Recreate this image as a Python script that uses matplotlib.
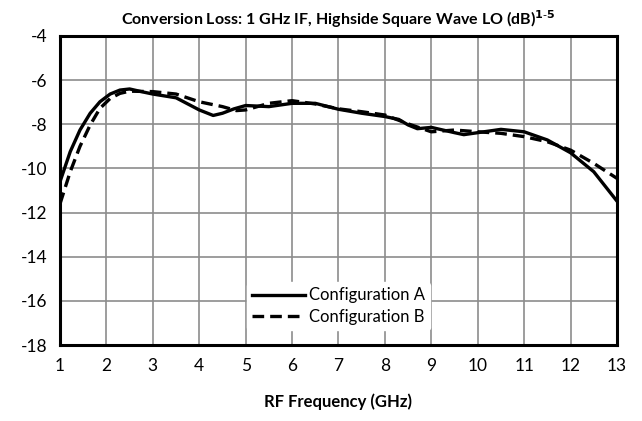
import matplotlib
matplotlib.use("Agg")
import matplotlib.pyplot as plt

# frequency points (GHz) and conversion loss (dB)
freq_a = [1.0, 1.22, 1.43, 1.65, 1.86, 2.08, 2.29, 2.5, 2.75, 3.0, 3.5, 4.0, 4.3, 4.5, 4.75, 5.0,
          5.5, 6.0, 6.5, 7.0, 7.5, 8.0, 8.3, 8.5, 8.7, 9.0, 9.5, 9.7, 10.0, 10.5, 11.0,
          11.5, 12.0, 12.5, 13.0]
loss_a = [-10.6, -9.24, -8.26, -7.5, -6.98, -6.63, -6.45, -6.4, -6.52, -6.63, -6.8, -7.35, -7.6, -7.5, -7.3, -7.15,
          -7.2, -7.05, -7.05, -7.32, -7.5, -7.65, -7.78, -8.03, -8.2, -8.14, -8.38, -8.47, -8.38, -8.23, -8.34,
          -8.71, -9.29, -10.15, -11.48]

freq_b = [1.0, 1.22, 1.43, 1.65, 1.86, 2.08, 2.29, 2.5, 3.0, 3.5, 4.0, 4.5, 4.8, 5.0, 5.5, 6.0,
          6.5, 7.0, 7.5, 8.0, 8.5, 9.0, 9.5, 10.0, 10.5, 11.0, 11.5, 12.0, 12.5, 13.0]
loss_b = [-11.6, -10.15, -9.0, -8.03, -7.28, -6.83, -6.6, -6.5, -6.52, -6.63, -6.98, -7.2, -7.38, -7.35, -7.05, -6.93,
          -7.08, -7.3, -7.43, -7.58, -7.98, -8.34, -8.26, -8.34, -8.41, -8.56, -8.79, -9.17, -9.77, -10.45]

x_ticks = list(range(1, 14))
y_ticks = list(range(-18, -3, 2))

plt.rcParams['font.family'] = ['Lato', 'DejaVu Sans']
plt.rcParams['axes.unicode_minus'] = False

fig = plt.figure(figsize=(6.42, 4.21), dpi=100)
ax = fig.add_axes([0.0935, 0.1805, 0.8675, 0.734])

ax.plot(freq_a, loss_a, color="black", lw=2.4, label="Configuration A")
ax.plot(freq_b, loss_b, color="black", lw=2.4, dashes=(3.5, 1.8), label="Configuration B")

ax.set_xlim(1, 13)
ax.set_ylim(-18, -4)
ax.set_xticks(x_ticks)
ax.set_yticks(y_ticks)
ax.tick_params(length=0, labelsize=12.5, pad=9)
ax.grid(True, color="#8c8c8c", lw=1.2)
ax.set_axisbelow(True)
for s in ax.spines.values():
    s.set_linewidth(2.2)
    s.set_color("black")

ax.set_title(r"Conversion Loss: 1 GHz IF, Highside Square Wave LO (dB)$^{\mathbf{1\text{-}5}}$",
             fontsize=11.5, fontweight="bold", pad=8)
ax.set_xlabel("RF Frequency (GHz)", fontsize=12, fontweight="bold", labelpad=14)

leg = ax.legend(loc="center", bbox_to_anchor=(0.5, 0.125), frameon=True, fontsize=12,
                handlelength=3.2, handletextpad=0.2, labelspacing=0.35, borderpad=0.3)
leg.get_frame().set_edgecolor("white")
leg.get_frame().set_facecolor("white")
leg.get_frame().set_alpha(1)

fig.savefig("out.png", dpi=100)
